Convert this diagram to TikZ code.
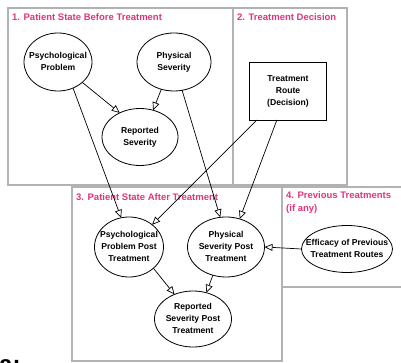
\documentclass[tikz,border=0pt]{standalone}
\usepackage{fontspec}
\setmainfont{Liberation Sans}
\usetikzlibrary{shapes.geometric,arrows.meta}
\definecolor{ttl}{RGB}{226,52,122}
\definecolor{boxg}{RGB}{178,178,178}
\newcommand{\ztext}[1]{\makebox[0pt]{\raisebox{-2.1pt}[0pt][0pt]{$\vcenter{\hbox{\begin{tabular}{@{}c@{}}#1\end{tabular}}}$}}}
\begin{document}
\begin{tikzpicture}[x=1pt,y=-1pt,
  region/.style={draw=boxg,line width=1.6pt},
  ttlstyle/.style={text=ttl,font=\fontsize{9.5}{13}\selectfont\bfseries,anchor=west,inner sep=0pt,align=left},
  ell/.style={ellipse,draw,line width=0.8pt,inner sep=0pt,outer sep=0pt,font=\fontsize{8.6}{12}\selectfont\bfseries},
  decbox/.style={rectangle,draw,line width=0.8pt,inner sep=0pt,outer sep=0pt,font=\fontsize{8.6}{12}\selectfont\bfseries},
  conn/.style={line width=0.7pt,-{Triangle[open,length=8pt,width=7pt,fill=white]}},
]
\useasboundingbox (0,0) rectangle (401,363);
\clip (0,0) rectangle (401,363);
% regions
\draw[region] (8,8) rectangle (233,185);
\draw[region] (233,8) rectangle (347,185);
\draw[region] (72,187) rectangle (282,361);
\draw[region] (282,187) rectangle (410,287);
% titles
\node[ttlstyle] (t1) at (12,17) {1. Patient State Before Treatment};
\node[ttlstyle] (t2) at (237,17) {2. Treatment Decision};
\node[ttlstyle] (t3) at (76,197) {3. Patient State After Treatment};
\node[ttlstyle,anchor=north west] (t4) at (286,191) {4. Previous Treatments\\(if any)};
% nodes
\node[ell,minimum width=68pt,minimum height=58pt] (psy) at (58,62) {\ztext{Psychological\\Problem}};
\node[ell,minimum width=74pt,minimum height=58pt] (phy) at (174,62) {\ztext{Physical\\Severity}};
\node[ell,minimum width=76pt,minimum height=57pt] (rep) at (140,137) {\ztext{Reported\\Severity}};
\node[decbox,minimum width=77pt,minimum height=58pt] (tr) at (288,91) {\ztext{Treatment\\Route\\(Decision)}};
\node[ell,minimum width=69pt,minimum height=60pt] (psyp) at (129,247) {\ztext{Psychological\\Problem Post\\Treatment}};
\node[ell,minimum width=77pt,minimum height=60pt] (phyp) at (226,247) {\ztext{Physical\\Severity Post\\Treatment}};
\node[ell,minimum width=77pt,minimum height=56pt] (repp) at (193,319) {\ztext{Reported\\Severity Post\\Treatment}};
\node[ell,minimum width=91pt,minimum height=47pt] (eff) at (347,249) {\ztext{Efficacy of Previous\\Treatment Routes}};
% connectors
\draw[conn] (psy.-60) -- (psyp.105);
\draw[conn] (psy.-40) -- (rep.130);
\draw[conn] (phy.-115) -- (rep.64);
\draw[conn] (phy.-74) -- (phyp.101);
\draw[conn] (tr.-137) -- (psyp.44);
\draw[conn] (tr.-111) -- (phyp.64);
\draw[conn] (eff.west) -- (phyp.east);
\draw[conn] (psyp.-41) -- (repp.127);
\draw[conn] (phyp.-115) -- (repp.63);
% cropped caption fragment (cut off at the bottom edge, as in the reference)
\node[anchor=base west,inner sep=0pt,font=\fontsize{24}{28}\selectfont\bfseries] (cap) at (-1,372) {a:};
\end{tikzpicture}
\end{document}
